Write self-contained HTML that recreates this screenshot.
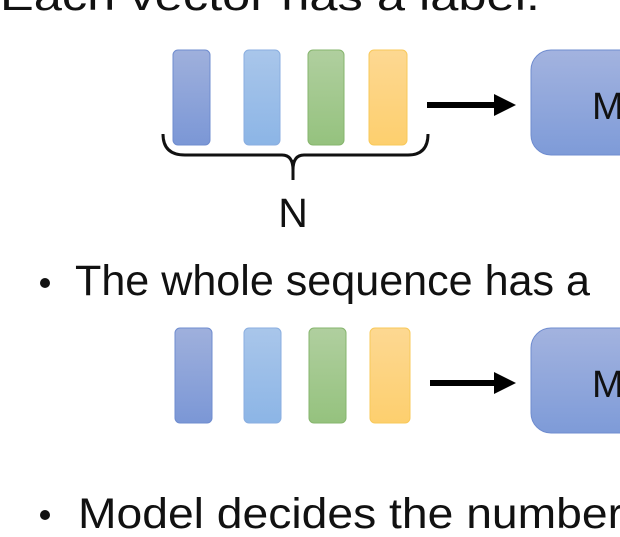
<!DOCTYPE html>
<html><head><style>
html,body{margin:0;padding:0;background:#fff;width:620px;height:537px;overflow:hidden}
</style></head><body>
<svg width="620" height="537" xmlns="http://www.w3.org/2000/svg" font-family="Liberation Sans, sans-serif">
<defs>
<linearGradient id="b1" x1="0" y1="0" x2="0" y2="1"><stop offset="0" stop-color="#9fb0dc"/><stop offset="1" stop-color="#7b97d6"/></linearGradient>
<linearGradient id="b2" x1="0" y1="0" x2="0" y2="1"><stop offset="0" stop-color="#a9c6ea"/><stop offset="1" stop-color="#8cb5e6"/></linearGradient>
<linearGradient id="g" x1="0" y1="0" x2="0" y2="1"><stop offset="0" stop-color="#b0cf9f"/><stop offset="1" stop-color="#95c27e"/></linearGradient>
<linearGradient id="y" x1="0" y1="0" x2="0" y2="1"><stop offset="0" stop-color="#fdd892"/><stop offset="1" stop-color="#fdcf6e"/></linearGradient>
<linearGradient id="m" x1="0" y1="0" x2="0" y2="1"><stop offset="0" stop-color="#a3b3df"/><stop offset="1" stop-color="#7e9bd8"/></linearGradient>
</defs>
<text x="0" y="10" font-size="42" fill="#111" textLength="540" lengthAdjust="spacingAndGlyphs">  Each vector has a label.</text>
<rect x="173" y="50" width="37" height="95" rx="5" fill="url(#b1)" stroke="#6f8ccf"/>
<rect x="244" y="50" width="36" height="95" rx="5" fill="url(#b2)" stroke="#8aaee0"/>
<rect x="308" y="50" width="36" height="95" rx="5" fill="url(#g)" stroke="#86b56d"/>
<rect x="369" y="50" width="38" height="95" rx="5" fill="url(#y)" stroke="#f8c95a"/>
<path d="M163 134 Q163 155 185 155 L282 155 Q293 155 293 170 Q293 155 304 155 L408 155 Q428 155 428 134" fill="none" stroke="#111" stroke-width="3"/>
<line x1="293" y1="160" x2="293" y2="180" stroke="#111" stroke-width="3"/>
<text x="293" y="227" font-size="41" text-anchor="middle" fill="#111">N</text>
<line x1="427" y1="105" x2="496" y2="105" stroke="#000" stroke-width="6"/>
<polygon points="494,94 516,105 494,116" fill="#000"/>
<rect x="531" y="50" width="120" height="105" rx="20" fill="url(#m)" stroke="#6f8ccf"/>
<text x="592" y="119" font-size="38" fill="#111">M</text>
<circle cx="45" cy="283" r="5" fill="#111"/>
<text x="75" y="295" font-size="43" fill="#111" textLength="515" lengthAdjust="spacingAndGlyphs">The whole sequence has a</text>
<rect x="175" y="328" width="37" height="95" rx="5" fill="url(#b1)" stroke="#6f8ccf"/>
<rect x="244" y="328" width="37" height="95" rx="5" fill="url(#b2)" stroke="#8aaee0"/>
<rect x="309" y="328" width="37" height="95" rx="5" fill="url(#g)" stroke="#86b56d"/>
<rect x="370" y="328" width="40" height="95" rx="5" fill="url(#y)" stroke="#f8c95a"/>
<line x1="430" y1="383" x2="496" y2="383" stroke="#000" stroke-width="6"/>
<polygon points="494,372 516,383 494,394" fill="#000"/>
<rect x="531" y="328" width="120" height="105" rx="20" fill="url(#m)" stroke="#6f8ccf"/>
<text x="592" y="397" font-size="38" fill="#111">M</text>
<circle cx="45" cy="515" r="5" fill="#111"/>
<text x="78" y="528" font-size="43" fill="#111" textLength="545" lengthAdjust="spacingAndGlyphs">Model decides the number</text>
</svg>
</body></html>
